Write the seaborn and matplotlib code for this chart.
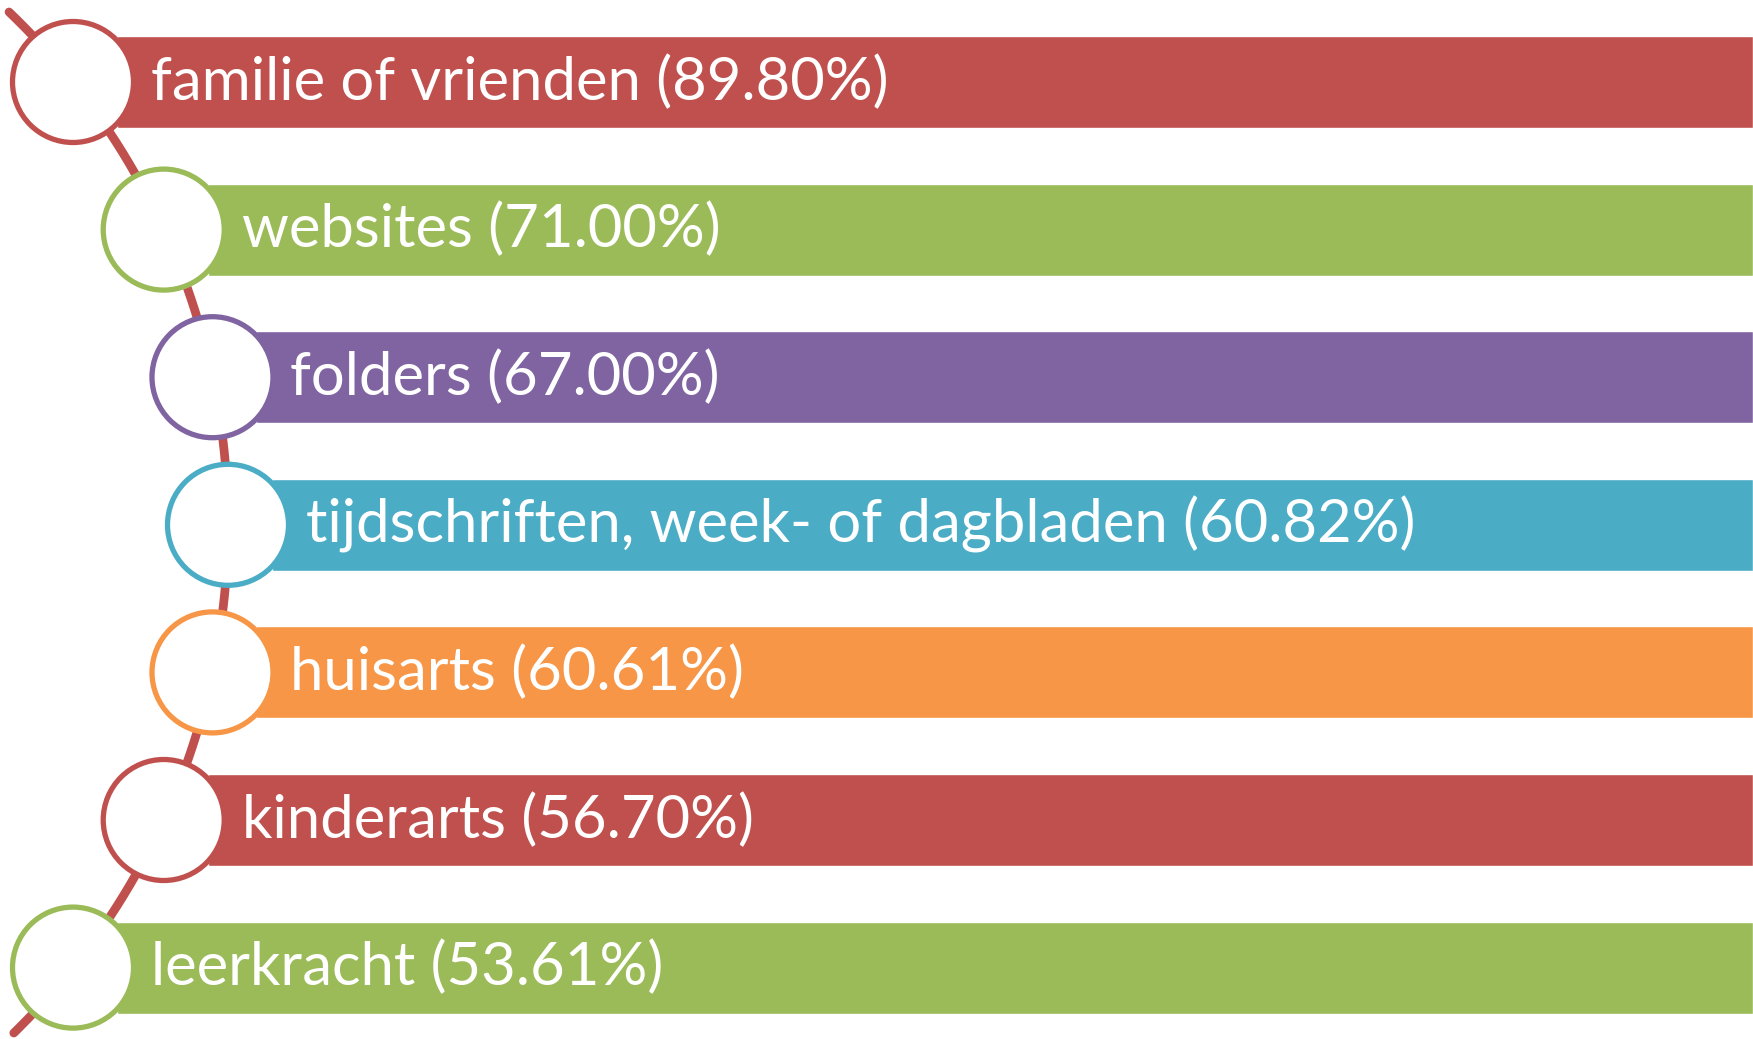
import matplotlib
matplotlib.use("Agg")
import matplotlib.pyplot as plt
from matplotlib.patches import Circle
import numpy as np
import seaborn as sns

categories = [
    "familie of vrienden",
    "websites",
    "folders",
    "tijdschriften, week- of dagbladen",
    "huisarts",
    "kinderarts",
    "leerkracht",
]
percentages = [89.80, 71.00, 67.00, 60.82, 60.61, 56.70, 53.61]
colors = ["#C0504D", "#9BBB59", "#8064A2", "#4BACC6", "#F79646", "#C0504D", "#9BBB59"]

W, H = 1753, 1039
sns.set_theme(style="white")
plt.rcParams["font.family"] = ["Lato", "DejaVu Sans"]

fig = plt.figure(figsize=(W / 100, H / 100), dpi=100)
ax = fig.add_axes([0, 0, 1, 1])
ax.set_xlim(0, W)
ax.set_ylim(H, 0)
ax.set_axis_off()

# layout: items sit on a big arc bulging to the right
row_step = 147.6
first_y = 82
bar_h = 92
arc_r = 710
arc_cx = -482
arc_cy = first_y + row_step * (len(categories) - 1) / 2

# connecting arc
ys = np.linspace(12, 1033, 400)
xs = arc_cx + np.sqrt(arc_r**2 - (ys - arc_cy) ** 2)
ax.plot(xs, ys, color="#C0504D", lw=6.3, solid_capstyle="round", zorder=1)

for i, (cat, pct, col) in enumerate(zip(categories, percentages, colors)):
    cy = first_y + i * row_step
    cx = arc_cx + np.sqrt(arc_r**2 - (cy - arc_cy) ** 2)
    left = cx + 44
    ax.barh(cy, W - left, left=left, height=bar_h, color=col, zorder=2)
    ax.add_patch(Circle((cx, cy), 60.5, facecolor="white", edgecolor=col, lw=3.8, zorder=3))
    ax.text(cx + 78, cy, f"{cat} ({pct:.2f}%)", color="white", fontsize=43,
            va="center", ha="left", zorder=4)

fig.savefig("out.png", dpi=100)
